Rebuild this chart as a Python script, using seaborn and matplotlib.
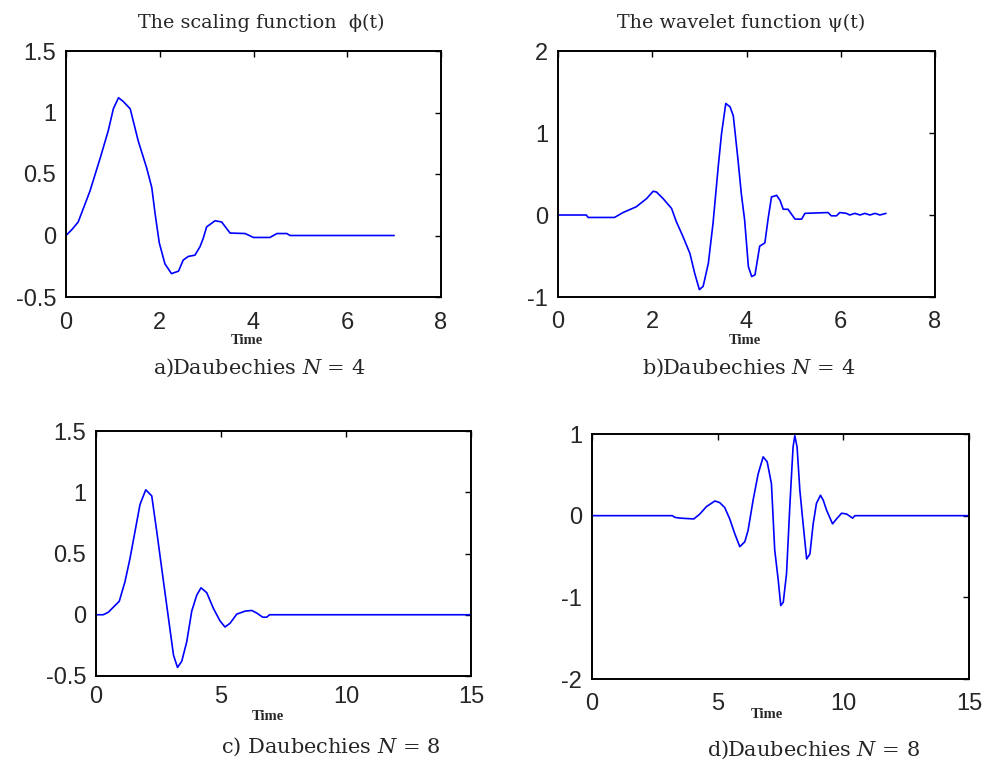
import numpy as np
import pandas as pd
import matplotlib
matplotlib.use("Agg")
import matplotlib.pyplot as plt
import seaborn as sns

# ---- data ----
t_phi4 = [0, 0.13, 0.26, 0.33, 0.51, 0.73, 0.90, 1.01, 1.12, 1.22, 1.37, 1.54, 1.72, 1.83, 1.90, 1.99,
          2.11, 2.25, 2.40, 2.50, 2.61, 2.75, 2.86, 2.93, 3.00, 3.18, 3.32, 3.50, 3.82, 4.00,
          4.35, 4.50, 4.71, 4.78, 7.00]
v_phi4 = [0, 0.05, 0.11, 0.18, 0.36, 0.63, 0.85, 1.03, 1.12, 1.09, 1.03, 0.77, 0.55, 0.39, 0.18, -0.06,
          -0.23, -0.31, -0.29, -0.20, -0.17, -0.16, -0.09, -0.02, 0.07, 0.12, 0.11, 0.02, 0.016, -0.016,
          -0.016, 0.016, 0.016, 0, 0]

t_psi4 = [0, 0.60, 0.64, 1.20, 1.38, 1.66, 1.88, 2.02, 2.09, 2.23, 2.41, 2.51, 2.65, 2.80, 2.90,
          3.00, 3.08, 3.19, 3.29, 3.40, 3.47, 3.56, 3.65, 3.72, 3.82, 3.89, 3.96, 4.04, 4.11, 4.18,
          4.28, 4.39, 4.46, 4.53, 4.64, 4.71, 4.78, 4.88, 5.03, 5.17, 5.24, 5.73, 5.80, 5.91, 5.98,
          6.12, 6.19, 6.30, 6.41, 6.51, 6.62, 6.73, 6.83, 6.96]
v_psi4 = [0, 0, -0.03, -0.03, 0.03, 0.10, 0.20, 0.29, 0.28, 0.20, 0.08, -0.08, -0.26, -0.47, -0.71,
          -0.91, -0.87, -0.59, -0.10, 0.59, 0.99, 1.36, 1.32, 1.21, 0.67, 0.26, -0.06, -0.63, -0.75, -0.73,
          -0.38, -0.34, -0.04, 0.22, 0.24, 0.18, 0.07, 0.07, -0.05, -0.05, 0.02, 0.03, -0.01, -0.01, 0.03,
          0.02, 0, 0.02, 0, 0.02, 0, 0.02, 0, 0.02]

t_phi8 = [0, 0.29, 0.49, 0.93, 1.16, 1.36, 1.56, 1.76, 1.99, 2.23, 2.43, 2.70, 2.90, 3.10, 3.26,
          3.43, 3.63, 3.83, 4.03, 4.20, 4.43, 4.70, 4.96, 5.16, 5.36, 5.63, 5.97, 6.23, 6.43, 6.67,
          6.83, 6.94, 15.0]
v_phi8 = [0, 0, 0.02, 0.11, 0.27, 0.46, 0.68, 0.90, 1.02, 0.97, 0.68, 0.27, -0.03, -0.33, -0.43,
          -0.38, -0.22, 0.03, 0.16, 0.22, 0.18, 0.05, -0.05, -0.10, -0.07, 0.005, 0.03, 0.035, 0.014, -0.02,
          -0.02, 0, 0]

t_psi8 = [0, 3.20, 3.29, 3.49, 4.05, 4.29, 4.55, 4.89, 5.08, 5.28, 5.48, 5.68, 5.88, 6.08, 6.21,
          6.41, 6.61, 6.81, 6.97, 7.14, 7.27, 7.41, 7.51, 7.61, 7.74, 7.87, 7.94, 8.00, 8.07, 8.16,
          8.27, 8.40, 8.54, 8.67, 8.80, 8.93, 9.09, 9.20, 9.33, 9.57, 9.73, 9.93, 10.13, 10.37, 10.46, 15.0]
v_psi8 = [0, 0, -0.02, -0.03, -0.04, 0.02, 0.11, 0.18, 0.16, 0.10, -0.04, -0.22, -0.38, -0.32, -0.18,
          0.19, 0.51, 0.72, 0.66, 0.39, -0.42, -0.79, -1.10, -1.06, -0.71, 0.11, 0.51, 0.84, 0.98, 0.84,
          0.31, -0.10, -0.53, -0.47, -0.10, 0.15, 0.25, 0.19, 0.07, -0.10, -0.04, 0.03, 0.02, -0.03, 0, 0]

titles = ["The scaling function  \u03d5(t)", "The wavelet function \u03c8(t)"]
captions = ["a)Daubechies $\\mathit{N}$ = 4", "b)Daubechies $\\mathit{N}$ = 4",
            "c) Daubechies $\\mathit{N}$ = 8", "d)Daubechies $\\mathit{N}$ = 8"]
xlims = [(0, 8), (0, 8), (0, 15), (0, 15)]
ylims = [(-0.5, 1.5), (-1, 2), (-0.5, 1.5), (-2, 1)]
xticks = [[0, 2, 4, 6, 8], [0, 2, 4, 6, 8], [0, 5, 10, 15], [0, 5, 10, 15]]
yticks = [[-0.5, 0, 0.5, 1, 1.5], [-1, 0, 1, 2], [-0.5, 0, 0.5, 1, 1.5], [-2, -1, 0, 1]]
ytlabels = [["-0.5", "0", "0.5", "1", "1.5"], ["-1", "0", "1", "2"],
            ["-0.5", "0", "0.5", "1", "1.5"], ["-2", "-1", "0", "1"]]

sns.set_style("white")
plt.rcParams['font.family'] = ['Liberation Sans', 'DejaVu Sans']
plt.rcParams['mathtext.fontset'] = 'custom'
plt.rcParams['mathtext.rm'] = 'DejaVu Serif'
plt.rcParams['mathtext.it'] = 'DejaVu Serif:italic'

W, H = 984, 766
fig = plt.figure(figsize=(W / 100, H / 100), dpi=100)

# axes boxes in pixels: left, top, right, bottom
boxes = [(66, 51, 441, 297), (558, 51, 935, 297), (96, 431, 471, 676), (592, 434, 969, 679)]
xpads = [10.5, 10, 7, 10]
series = [(t_phi4, v_phi4), (t_psi4, v_psi4), (t_phi8, v_phi8), (t_psi8, v_psi8)]

for i, (box, (tt, vv)) in enumerate(zip(boxes, series)):
    l, t, r, b = box
    ax = fig.add_axes([l / W, 1 - b / H, (r - l) / W, (b - t) / H])
    df = pd.DataFrame({"t": tt, "v": vv})
    sns.lineplot(data=df, x="t", y="v", ax=ax, color="#0000ff", linewidth=1.2, sort=False)
    ax.set_xlim(*xlims[i])
    ax.set_ylim(*ylims[i])
    ax.set_xticks(xticks[i])
    ax.set_xticklabels([str(x) for x in xticks[i]])
    ax.set_yticks(yticks[i])
    ax.set_yticklabels(ytlabels[i])
    ax.set_xlabel("")
    ax.set_ylabel("")
    ax.tick_params(direction="in", length=4, width=1.0, labelsize=17, color="black",
                   top=True, right=True)
    ax.tick_params(axis="x", pad=xpads[i])
    ax.tick_params(axis="y", pad=7)
    for sp in ax.spines.values():
        sp.set_visible(True)
        sp.set_color("black")
        sp.set_linewidth(1.4)

serif = ['DejaVu Serif']
fig.text(261 / W, 1 - 23 / H, titles[0], ha="center", va="center", fontsize=13.8, family=serif)
fig.text(741 / W, 1 - 23 / H, titles[1], ha="center", va="center", fontsize=13.8, family=serif)

time_pos = [(247, 340), (745, 340), (268, 717), (767, 715)]
for (x, y) in time_pos:
    fig.text(x / W, 1 - y / H, "Time", ha="center", va="center", fontsize=10.5,
             fontweight="bold", family=['Liberation Serif'])

cap_pos = [(259, 368), (749, 368), (331, 747), (813, 750)]
for (x, y), c in zip(cap_pos, captions):
    fig.text(x / W, 1 - y / H, c, ha="center", va="center", fontsize=15, family=serif)

fig.savefig("out.png", dpi=100)
